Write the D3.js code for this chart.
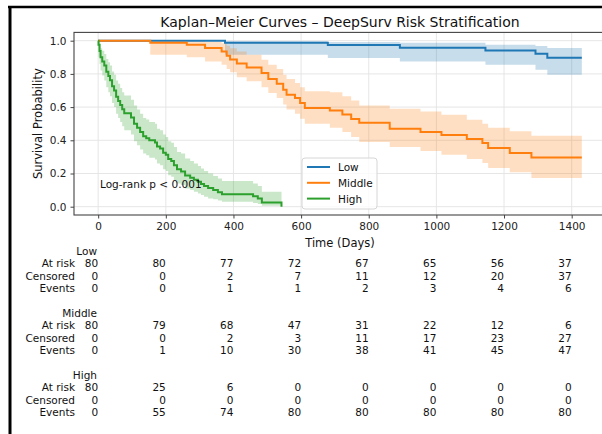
<!DOCTYPE html>
<html><head><meta charset="utf-8">
<script src="https://cdn.jsdelivr.net/npm/d3@7"></script>
<style>body{margin:0;background:#fff;} svg{display:block;font-family:"DejaVu Sans",sans-serif;}</style>
</head><body><div id="chart"></div>
<script>
// ---------------- data ----------------
const groups = ["Low", "Middle", "High"];
const colors = ["#1f77b4", "#ff7f0e", "#2ca02c"];
const xTicks = [0, 200, 400, 600, 800, 1000, 1200, 1400];
const yTicks = [0, 0.2, 0.4, 0.6, 0.8, 1.0];

const lowTime = [0, 375, 679, 892, 1145, 1293, 1328, 1430];
const lowSurv = [1, 0.987, 0.974, 0.958, 0.941, 0.921, 0.898, 0.898];
const lowLo   = [1, 0.916, 0.896, 0.875, 0.855, 0.825, 0.795, 0.795];
const lowHi   = [1, 0.997, 0.992, 0.987, 0.976, 0.968, 0.956, 0.956];

const midTime = [0, 154, 262, 316, 365, 380, 390, 410, 439, 483, 503, 528, 547, 557, 582, 597, 611, 685, 722, 748, 772, 862, 953, 1015, 1090, 1136, 1153, 1217, 1281, 1430];
const midSurv = [1, 0.988, 0.975, 0.956, 0.935, 0.91, 0.886, 0.862, 0.838, 0.805, 0.77, 0.74, 0.705, 0.675, 0.655, 0.625, 0.595, 0.58, 0.555, 0.528, 0.505, 0.47, 0.45, 0.432, 0.408, 0.384, 0.354, 0.323, 0.297, 0.297];
const midLo   = [1, 0.915, 0.90, 0.875, 0.855, 0.83, 0.81, 0.78, 0.755, 0.72, 0.685, 0.655, 0.615, 0.585, 0.56, 0.53, 0.50, 0.475, 0.45, 0.42, 0.39, 0.36, 0.335, 0.313, 0.287, 0.263, 0.233, 0.207, 0.173, 0.173];
const midHi   = [1, 0.998, 0.996, 0.992, 0.985, 0.97, 0.955, 0.935, 0.915, 0.885, 0.855, 0.83, 0.795, 0.77, 0.745, 0.72, 0.695, 0.69, 0.665, 0.64, 0.61, 0.59, 0.574, 0.554, 0.524, 0.50, 0.475, 0.454, 0.428, 0.428];

const highTime = [0, 1, 4, 7, 12, 18, 24, 30, 35, 41, 47, 53, 59, 65, 71, 77, 97, 106, 115, 124, 133, 142, 151, 168, 174, 183, 192, 200, 207, 216, 224, 233, 245, 257, 272, 283, 295, 304, 313, 325, 340, 354, 366, 458, 472, 484, 542];
const highSurv = [1, 0.975, 0.9375, 0.9, 0.875, 0.85, 0.8125, 0.7875, 0.7625, 0.725, 0.7, 0.6625, 0.6375, 0.6125, 0.5875, 0.5625, 0.5375, 0.5, 0.475, 0.45, 0.425, 0.4125, 0.4, 0.3875, 0.3625, 0.35, 0.325, 0.3125, 0.2875, 0.275, 0.25, 0.225, 0.2125, 0.1875, 0.175, 0.1625, 0.15, 0.1375, 0.125, 0.1125, 0.1, 0.0875, 0.075, 0.0625, 0.05, 0.025, 0];
const highLo   = [1, 0.90, 0.86, 0.82, 0.79, 0.76, 0.72, 0.69, 0.665, 0.625, 0.60, 0.56, 0.535, 0.51, 0.485, 0.46, 0.435, 0.395, 0.37, 0.345, 0.32, 0.31, 0.295, 0.285, 0.26, 0.25, 0.225, 0.215, 0.19, 0.18, 0.16, 0.14, 0.13, 0.11, 0.10, 0.09, 0.08, 0.07, 0.06, 0.05, 0.045, 0.037, 0.03, 0.022, 0.016, 0.005, 0];
const highHi   = [1, 0.995, 0.98, 0.955, 0.94, 0.92, 0.89, 0.87, 0.85, 0.815, 0.795, 0.76, 0.74, 0.715, 0.69, 0.67, 0.645, 0.61, 0.585, 0.56, 0.535, 0.525, 0.51, 0.5, 0.47, 0.46, 0.435, 0.42, 0.395, 0.385, 0.36, 0.33, 0.32, 0.29, 0.275, 0.26, 0.245, 0.23, 0.215, 0.2, 0.185, 0.17, 0.155, 0.14, 0.125, 0.09, 0];

const tableRows = ["At risk", "Censored", "Events"];
const lowAtRisk = [80, 80, 77, 72, 67, 65, 56, 37];
const lowCensored = [0, 0, 2, 7, 11, 12, 20, 37];
const lowEvents = [0, 0, 1, 1, 2, 3, 4, 6];
const midAtRisk = [80, 79, 68, 47, 31, 22, 12, 6];
const midCensored = [0, 0, 2, 3, 11, 17, 23, 27];
const midEvents = [0, 1, 10, 30, 38, 41, 45, 47];
const highAtRisk = [80, 25, 6, 0, 0, 0, 0, 0];
const highCensored = [0, 0, 0, 0, 0, 0, 0, 0];
const highEvents = [0, 55, 74, 80, 80, 80, 80, 80];

const titleText = "Kaplan–Meier Curves – DeepSurv Risk Stratification";
const pText = "Log-rank p < 0.001";

// ---------------- build ----------------
const W = 602, H = 434;
const svg = d3.select("#chart").append("svg").attr("width", W).attr("height", H);

// figure frame
svg.append("line").attr("x1", 8).attr("x2", W).attr("y1", 7).attr("y2", 7).attr("stroke", "#000").attr("stroke-width", 2.5);
svg.append("line").attr("x1", 10).attr("x2", 10).attr("y1", 6).attr("y2", H).attr("stroke", "#000").attr("stroke-width", 3);

const L = 74, R = 606, T = 32.4, B = 215;
const x = d3.scaleLinear().domain([-71.5, 1501.5]).range([L, R]);
const y = d3.scaleLinear().domain([-0.05, 1.05]).range([B, T]);

const clip = svg.append("defs").append("clipPath").attr("id", "clip").append("rect")
  .attr("x", L).attr("y", T).attr("width", R - L).attr("height", B - T);

// grid
const grid = svg.append("g");
grid.selectAll(".gx").data(xTicks).join("line")
  .attr("x1", d => x(d)).attr("x2", d => x(d)).attr("y1", T).attr("y2", B)
  .attr("stroke", "#e3e3e3").attr("stroke-width", 0.9);
grid.selectAll(".gy").data(yTicks).join("line")
  .attr("x1", L).attr("x2", R).attr("y1", d => y(d)).attr("y2", d => y(d))
  .attr("stroke", "#e3e3e3").attr("stroke-width", 0.9);

const series = [
  {t: lowTime, s: lowSurv, lo: lowLo, hi: lowHi},
  {t: midTime, s: midSurv, lo: midLo, hi: midHi},
  {t: highTime, s: highSurv, lo: highLo, hi: highHi}
];

const plot = svg.append("g").attr("clip-path", "url(#clip)");
series.forEach((sr, i) => {
  const pts = sr.t.map((t, k) => ({t, s: sr.s[k], lo: sr.lo[k], hi: sr.hi[k]}));
  const area = d3.area().curve(d3.curveStepAfter).x(d => x(d.t)).y0(d => y(d.lo)).y1(d => y(d.hi));
  plot.append("path").datum(pts).attr("d", area).attr("fill", colors[i]).attr("fill-opacity", 0.25);
});
series.forEach((sr, i) => {
  const pts = sr.t.map((t, k) => ({t, s: sr.s[k]}));
  const line = d3.line().curve(d3.curveStepAfter).x(d => x(d.t)).y(d => y(d.s));
  plot.append("path").datum(pts).attr("d", line).attr("fill", "none")
    .attr("stroke", colors[i]).attr("stroke-width", 2);
});

// axes
const fs = 10.5;
const xAxis = svg.append("g").attr("transform", `translate(0,${B})`)
  .call(d3.axisBottom(x).tickValues(xTicks).tickSize(3.5).tickPadding(4).tickFormat(d3.format("d")));
const yAxis = svg.append("g").attr("transform", `translate(${L},0)`)
  .call(d3.axisLeft(y).tickValues(yTicks).tickSize(3.5).tickPadding(4).tickFormat(d3.format(".1f")));
[xAxis, yAxis].forEach(a => {
  a.select(".domain").remove();
  a.selectAll("text").attr("font-size", fs).attr("fill", "#222").attr("font-family", "DejaVu Sans");
  a.selectAll("line").attr("stroke", "#444");
});
// spines
svg.append("rect").attr("x", L).attr("y", T).attr("width", R - L).attr("height", B - T)
  .attr("fill", "none").attr("stroke", "#444").attr("stroke-width", 1.1);

// title and labels
svg.append("text").attr("x", (L + R) / 2).attr("y", 27).attr("text-anchor", "middle")
  .attr("font-size", 14).attr("fill", "#111").text(titleText);
svg.append("text").attr("transform", `translate(42,${(T + B) / 2}) rotate(-90)`)
  .attr("text-anchor", "middle").attr("font-size", 11.5).attr("fill", "#111").text("Survival Probability");
svg.append("text").attr("x", (L + R) / 2).attr("y", 247).attr("text-anchor", "middle")
  .attr("font-size", 11.5).attr("fill", "#111").text("Time (Days)");

// p-value
svg.append("text").attr("x", 100).attr("y", 188).attr("font-size", fs).attr("fill", "#111").text(pText);

// legend
const lg = svg.append("g").attr("transform", "translate(302,158)");
lg.append("rect").attr("width", 75).attr("height", 51).attr("rx", 3)
  .attr("fill", "#fff").attr("fill-opacity", 0.8).attr("stroke", "#d6d6d6");
groups.forEach((g, i) => {
  const yy = 9 + i * 15.8;
  lg.append("line").attr("x1", 5).attr("x2", 28).attr("y1", yy).attr("y2", yy)
    .attr("stroke", colors[i]).attr("stroke-width", 2);
  lg.append("text").attr("x", 36).attr("y", yy + 4).attr("font-size", fs).attr("fill", "#111").text(g);
});

// at-risk table
const tableData = [
  [lowAtRisk, lowCensored, lowEvents],
  [midAtRisk, midCensored, midEvents],
  [highAtRisk, highCensored, highEvents]
];
const tg = svg.append("g").attr("font-size", fs).attr("fill", "#111");
groups.forEach((g, gi) => {
  const y0 = 255 + gi * 62;
  tg.append("text").attr("x", 97).attr("y", y0).attr("text-anchor", "end").text(g);
  tableRows.forEach((rn, ri) => {
    const yy = y0 + 12.4 * (ri + 1);
    tg.append("text").attr("x", 75).attr("y", yy).attr("text-anchor", "end").text(rn);
    tableData[gi][ri].forEach((v, ci) => {
      tg.append("text").attr("x", x(xTicks[ci])).attr("y", yy).attr("text-anchor", "end").text(v);
    });
  });
});
</script></body></html>
